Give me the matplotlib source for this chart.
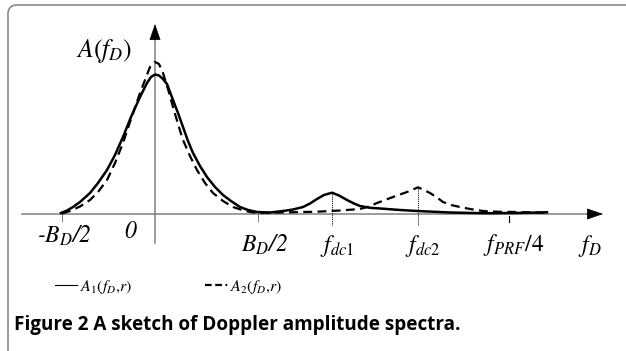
import matplotlib
matplotlib.use("Agg")
import matplotlib.pyplot as plt
from matplotlib.patches import FancyBboxPatch
from matplotlib.lines import Line2D

# sketch units: 1 unit on each axis = 1 px of the reference, origin at f_D = 0
A1_X = [-94, -88, -82, -75, -65, -57, -48, -40, -32, -24, -15, -8, -4, 0, 4, 8, 12, 18, 23, 28,
        33, 38, 45, 52, 60, 68, 76, 85, 93, 102, 115, 128, 138, 148, 155, 162, 169, 177, 184,
        192, 199, 205, 215, 228, 245, 262, 295, 328, 360, 392]
A1_Y = [1, 3.5, 7, 12, 21, 31, 44, 59, 77, 97, 117, 131, 137, 139.5, 138.5, 135, 130, 114, 101, 87,
        73, 61, 48, 37, 27, 19, 13, 7, 4, 2, 1.5, 3, 4.5, 7, 10.5, 15, 19, 21.3, 18.5,
        14, 10.5, 8, 6.2, 5.3, 4, 3, 1.5, 0.8, 1, 1.7]

A2_X = [-93, -85, -75, -65, -57, -48, -40, -32, -24, -15, -10, -5, 0, 4, 8, 13, 18, 23, 28, 35,
        42, 50, 58, 68, 78, 90, 102, 125, 162, 185, 205, 214, 222, 230, 238, 245, 252, 258, 263,
        269, 275, 282, 288, 296, 305, 315, 328, 345, 362, 375, 392]
A2_Y = [0.5, 3, 7.5, 14, 22, 34, 51, 71, 95, 121, 134, 147, 152, 150, 141, 125, 107, 90, 74, 58,
        44, 31, 21, 13, 7, 3, 1, 1.5, 2.3, 3.5, 5, 7.5, 11, 14, 17, 19.5, 22, 24.5, 26.7,
        24, 21, 16.5, 12, 9, 7, 5, 3, 2.2, 2, 1.7, 1.3]

TICK_X = [-93, 103, 354]
TICK_LABELS = ["-$B_D$/2", "$B_D$/2", "$f_{PRF}$/4"]
TICK_LABEL_X = [-91, 109, 359]
DC_X = [177, 263]
DC_Y = [21.3, 26.7]
DC_LABELS = ["$f_{dc1}$", "$f_{dc2}$"]

plt.rcParams["mathtext.fontset"] = "stix"
plt.rcParams["font.family"] = "STIXGeneral"

fig = plt.figure(figsize=(6.26, 3.51), dpi=100)
ax = fig.add_axes([0, 0, 1, 1])
ax.set_xlim(-155, 471)
ax.set_ylim(-137, 214)
ax.axis("off")

# frame round the figure (cut by the right and bottom edges)
frame = FancyBboxPatch((-147, -170), 700, 379, boxstyle="round,pad=0,rounding_size=9",
                       fc="none", ec="#8a8a8a", lw=1.2)
ax.add_patch(frame)

# axes with arrows
axis_grey = "#808080"
ax.plot([-133, 440], [0, 0], color=axis_grey, lw=1.1)
ax.plot([0, 0], [-29, 180], color=axis_grey, lw=1.1)
head = dict(arrowstyle="-|>,head_length=0.75,head_width=0.26", color="black",
            shrinkA=0, shrinkB=0, mutation_scale=14, lw=0.5)
ax.annotate("", xy=(448, 0), xytext=(432, 0), arrowprops=head)
ax.annotate("", xy=(0, 190), xytext=(0, 174), arrowprops=head)

# spectra
ax.plot(A1_X, A1_Y, color="black", lw=1.8, solid_joinstyle="round")
ax.plot(A2_X, A2_Y, color="black", lw=1.6, dashes=(4, 2.4))

# ticks and markers
for x in TICK_X[:2]:
    ax.plot([x, x], [0, -8], color="black", lw=0.7, ls=(0, (1, 1)))
ax.plot([TICK_X[2], TICK_X[2]], [-2, -8], color="black", lw=0.8)
for x, y in zip(DC_X, DC_Y):
    ax.plot([x, x], [y, -11], color="black", lw=0.7, ls=(0, (1, 1)))

# labels
ax.text(-51, 163, "$A(f_D)$", fontsize=18.5, ha="center", va="center")
ax.text(TICK_LABEL_X[0], -29, TICK_LABELS[0], fontsize=17, ha="center", va="baseline",
        style="italic")
ax.text(-25, -24, "0", fontsize=17, ha="center", va="baseline", style="italic")
ax.text(TICK_LABEL_X[1], -38, TICK_LABELS[1], fontsize=17, ha="center", va="baseline",
        style="italic")
ax.text(TICK_LABEL_X[2], -37, TICK_LABELS[2], fontsize=17, ha="center", va="baseline")
for x, lab in zip(DC_X, DC_LABELS):
    ax.text(x + 5, -38, lab, fontsize=17, ha="center", va="baseline")
ax.text(435, -38, "$f_D$", fontsize=17, ha="center", va="baseline")

# legend
handles = [Line2D([], [], color="black", lw=0.8),
           Line2D([], [], color="black", lw=1.6, dashes=(3, 1.6, 3, 1.6, 0.8, 1.6))]
fig.legend(handles, ["$A_1(f_D{,}r)$", "$A_2(f_D{,}r)$"], loc="center left",
           bbox_to_anchor=(55 / 626, 1 - 287 / 351), ncol=2, frameon=False,
           fontsize=11.5, handlelength=1.4, handletextpad=0.15, columnspacing=4.6,
           borderpad=0, borderaxespad=0)

fig.text(14 / 626, 1 - 325 / 351, "Figure 2 A sketch of Doppler amplitude spectra.",
         fontsize=13.6, fontweight="bold", family="Open Sans", va="center", ha="left")

fig.savefig("out.png", dpi=100)
